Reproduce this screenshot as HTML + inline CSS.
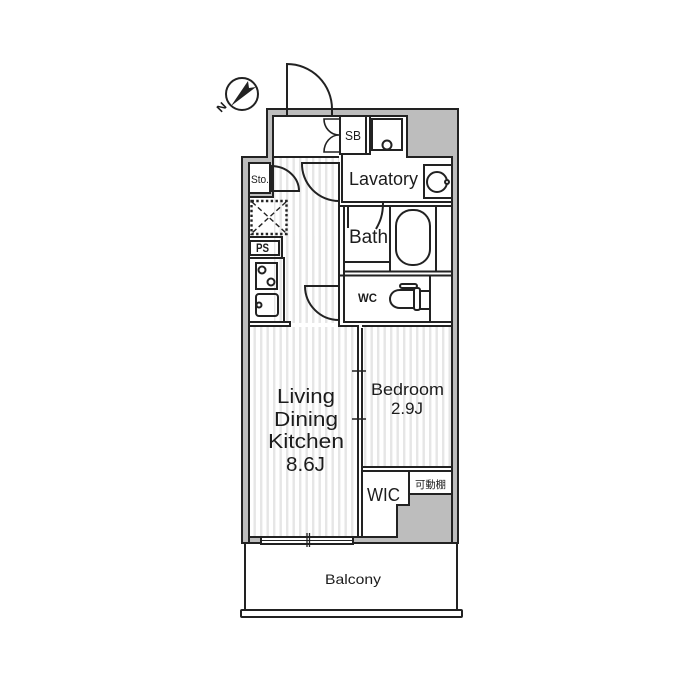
<!DOCTYPE html>
<html>
<head>
<meta charset="utf-8">
<style>
html,body{margin:0;padding:0;background:#fff}
svg{display:block;filter:blur(0.35px)}
text{font-family:"Liberation Sans","Noto Sans CJK JP",sans-serif;fill:#1c1c1c}
</style>
</head>
<body>
<svg width="700" height="698" viewBox="0 0 700 698" xmlns="http://www.w3.org/2000/svg">
<defs>
<pattern id="st" width="6.5" height="10" patternUnits="userSpaceOnUse">
<rect x="0" y="0" width="2.4" height="10" fill="#e6e6e6"/>
</pattern>
</defs>

<!-- outer shell with wall band -->
<path d="M267 109H458V543H242V157H267Z" fill="#bdbdbd" stroke="#222" stroke-width="2"/>
<path d="M274 116H407V157H452V494H409V505H397V537H249V163H274Z" fill="#fff"/>

<!-- hatching -->
<rect x="274" y="158" width="65" height="165" fill="url(#st)"/>
<rect x="284" y="236" width="55" height="86" fill="url(#st)"/>
<rect x="250" y="327" width="108" height="209" fill="url(#st)"/>
<rect x="363" y="327" width="88" height="140" fill="url(#st)"/>
<rect x="270" y="163" width="3.500" height="34" fill="#bdbdbd"/>
<rect x="249" y="193" width="24" height="4" fill="#bdbdbd"/>

<g fill="none" stroke="#222" stroke-width="2">
<!-- inner wall outline -->
<path d="M249 543V163H270M273 157V116H407V157H452V543"/>
<path d="M273 157H339"/>

<!-- entry door -->
<path d="M287 109V64A45 45 0 0 1 332 109"/>
<path d="M287 116V109M332 116V109"/>
<!-- shoe cupboard -->
<path d="M340 116V154H366V116M370 116V154H342V157"/>
<path d="M340 119H324A15 16 0 0 0 339 135A15 17 0 0 0 324 152H340" stroke-width="1.600"/>
<!-- washer -->
<rect x="372" y="119" width="30" height="31"/>
<circle cx="387" cy="145" r="4.500" fill="#fff"/>
<!-- lavatory -->
<path d="M342 157V202H452"/>
<path d="M339 163V322"/>
<path d="M344 207V322H452"/>
<path d="M339 206H452"/>
<rect x="424" y="165" width="28" height="33"/>
<circle cx="437" cy="182" r="10"/>
<circle cx="447" cy="182" r="2" fill="#fff"/>
<!-- doors -->
<path d="M302 163H339V201A37 37 0 0 1 302 163Z"/>
<path d="M305 286H339V320A34 34 0 0 1 305 286Z"/>
<path d="M271 166A28 25 0 0 1 299 191H271Z"/>
<!-- bath -->
<path d="M348 206V228"/>
<path d="M383 203C383 215 380 222 376 229"/>
<path d="M390 206V271M436 206V271M344 262H390"/>
<path d="M344 271.500H452M339 275.500H452"/>
<rect x="396" y="210" width="34" height="55" rx="16"/>
<!-- WC -->
<path d="M430 276V322"/>
<path d="M414 290H400C392 290 390 296 390 299C390 304 394 308 400 308H414"/>
<rect x="414" y="288" width="6" height="22" rx="2"/>
<rect x="420" y="291" width="10" height="18"/>
<rect x="400" y="284" width="17" height="4" rx="2"/>
<!-- storage -->
<rect x="249" y="163" width="21" height="30"/>
<path d="M249 197H273V157"/>
<!-- PS, kitchen -->
<rect x="250" y="241" width="29" height="14"/>
<path d="M249 237H282V258M249 258H284V322"/>
<rect x="256" y="263" width="21" height="26"/>
<circle cx="262" cy="270" r="3.500"/>
<circle cx="271" cy="282" r="3.500"/>
<rect x="256" y="294" width="22" height="22" rx="3"/>
<circle cx="259" cy="305" r="2.500"/>
<rect x="249" y="322" width="41" height="4" fill="#fff"/>
<!-- lower wall -->
<path d="M339 322V326H358V537M362 328V467H452M362 326H452"/>
<path d="M362 467V537M362 471H452M249 537H397V505H409V494H452M409 471V494"/>
<!-- ticks -->
<path d="M352 371H366M352 419H366" stroke-width="1.400"/>
<!-- balcony -->
<path d="M245 544V610M457 544V610"/>
<rect x="241" y="610" width="221" height="7" rx="1" fill="#fff"/>
<rect x="261" y="537" width="92" height="7" fill="#fff"/>
<path d="M261 540.500H353" stroke-width="1"/>
<path d="M307 533V547M309.500 533V547" stroke-width="1.300"/>
</g>

<!-- fridge -->
<g fill="none" stroke="#222">
<rect x="251.500" y="201" width="35" height="33" stroke-width="2.400" stroke-dasharray="2.400 2.400"/>
<path d="M252 202L286 233M286 202L252 233" stroke-width="1.400" stroke-dasharray="5 3"/>
</g>

<!-- compass -->
<circle cx="242" cy="94" r="16" fill="#fff" stroke="#222" stroke-width="2"/>
<path d="M231 106L248 81L249 88L256 87Z" fill="#222"/>
<text transform="translate(221 113) rotate(-45)" font-size="11" font-weight="bold" textLength="9" lengthAdjust="spacingAndGlyphs">N</text>

<!-- labels -->
<text x="349" y="185" font-size="18" textLength="69" lengthAdjust="spacingAndGlyphs">Lavatory</text>
<text x="349" y="243" font-size="19" textLength="39" lengthAdjust="spacingAndGlyphs">Bath</text>
<text x="358" y="302" font-size="12" font-weight="bold" textLength="19" lengthAdjust="spacingAndGlyphs">WC</text>
<text x="345" y="140" font-size="13" textLength="16" lengthAdjust="spacingAndGlyphs">SB</text>
<text x="251" y="183" font-size="11" textLength="18" lengthAdjust="spacingAndGlyphs">Sto.</text>
<text x="256" y="252" font-size="12" font-weight="bold" textLength="13" lengthAdjust="spacingAndGlyphs">PS</text>
<text x="277" y="403" font-size="20" textLength="58" lengthAdjust="spacingAndGlyphs">Living</text>
<text x="274" y="426" font-size="20" textLength="64" lengthAdjust="spacingAndGlyphs">Dining</text>
<text x="268" y="448" font-size="20" textLength="76" lengthAdjust="spacingAndGlyphs">Kitchen</text>
<text x="286" y="471" font-size="20" textLength="39" lengthAdjust="spacingAndGlyphs">8.6J</text>
<text x="371" y="395" font-size="17" textLength="73" lengthAdjust="spacingAndGlyphs">Bedroom</text>
<text x="391" y="414" font-size="17" textLength="32" lengthAdjust="spacingAndGlyphs">2.9J</text>
<text x="367" y="501" font-size="18" textLength="33" lengthAdjust="spacingAndGlyphs">WIC</text>
<text x="415" y="488" font-size="10.500" textLength="31" lengthAdjust="spacingAndGlyphs">可動棚</text>
<text x="325" y="584" font-size="14" textLength="56" lengthAdjust="spacingAndGlyphs">Balcony</text>
</svg>
</body>
</html>
